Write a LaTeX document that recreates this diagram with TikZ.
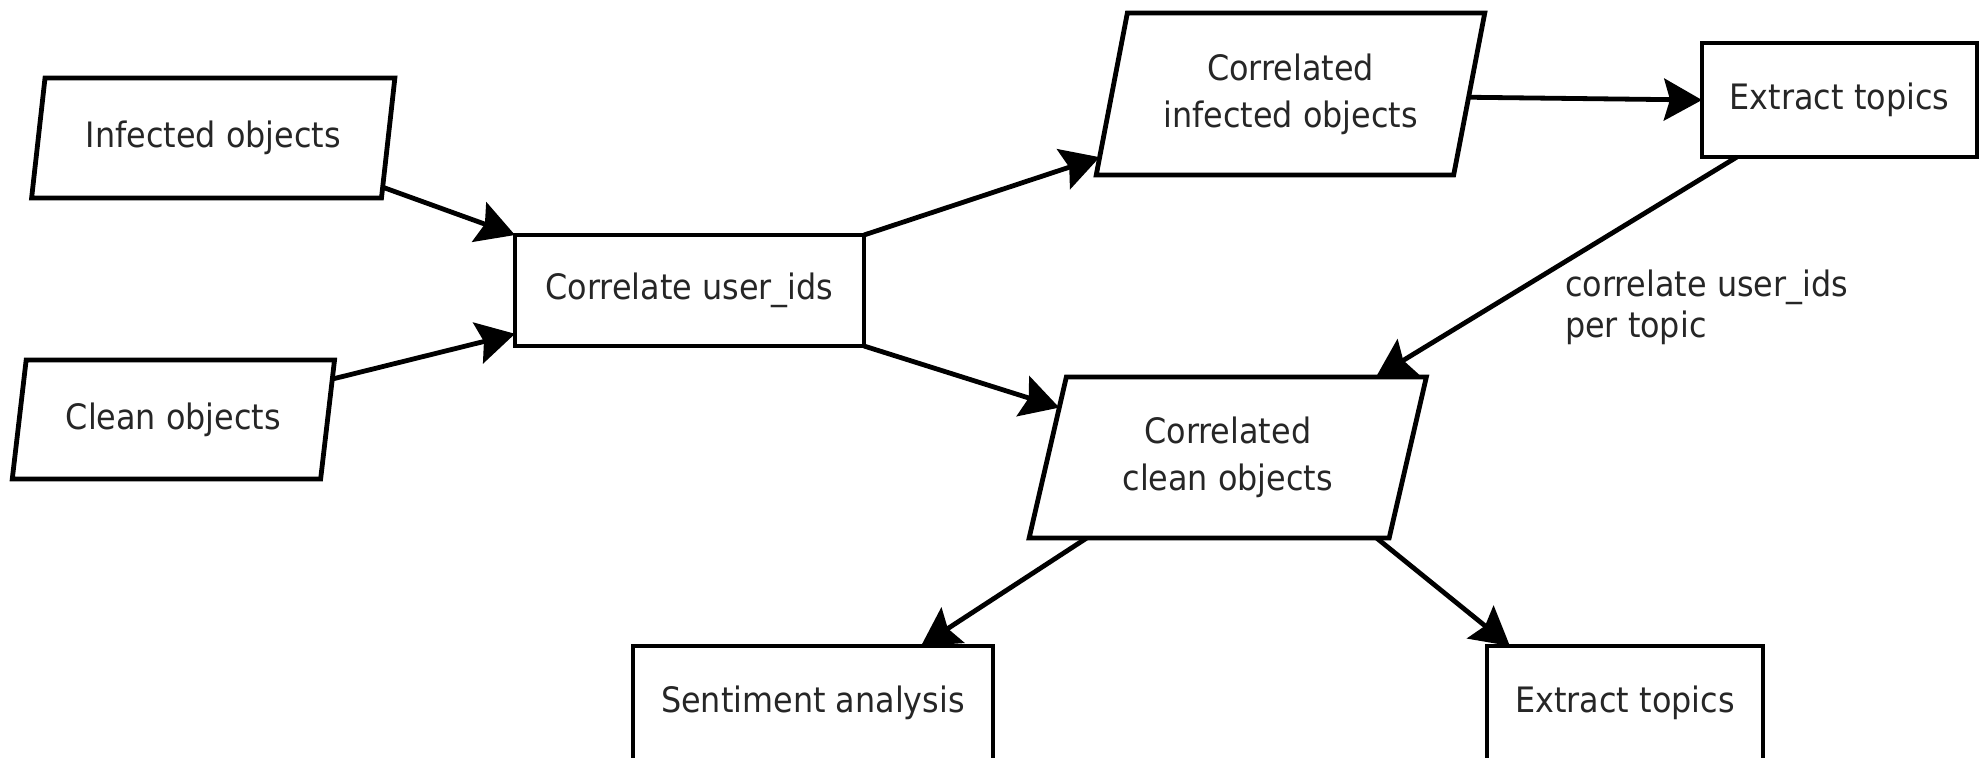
\documentclass[tikz,border=0pt]{standalone}
\usepackage{fontspec}
\setmainfont{DejaVu Sans}[FakeStretch=0.91]
\usetikzlibrary{shapes.geometric,arrows.meta,calc}
\begin{document}
\begin{tikzpicture}[x=0.5pt,y=-0.5pt,
  every node/.style={font=\fontsize{17.5pt}{23.5pt}\selectfont, inner sep=0pt, outer sep=0pt, text=black!85},
  box/.style={draw=black, line width=2.4pt, rectangle, align=center},
  para/.style={draw=black, line width=2.4pt, trapezium, trapezium left angle=73.3, trapezium right angle=106.7, trapezium stretches=true, align=center},
  conn/.style={line width=2.4pt, -{Stealth[length=19pt,width=21pt,inset=3pt]}}]
\useasboundingbox (0,0) rectangle (1981,757);
% nodes
\node[para, minimum width=182pt, minimum height=60pt] (inf) at (213.25,138) {Infected objects};
\node[para, minimum width=161.25pt, minimum height=59.5pt] (cln) at (173.4,419.5) {Clean objects};
\node[box, minimum width=174.5pt, minimum height=55.5pt] (cor) at (689.5,290.5) {Correlate user\_ids};
\node[para, minimum width=194.5pt, minimum height=81pt] (ci) at (1290.5,94) {Correlated\\infected objects};
\node[box, minimum width=137.5pt, minimum height=57pt] (et1) at (1839.5,100) {Extract topics};
\node[para, minimum width=199pt, minimum height=80.5pt] (cc) at (1227.75,457.5) {Correlated\\clean objects};
\node[box, minimum width=180pt, minimum height=57pt] (sa) at (813,703) {Sentiment analysis};
\node[box, minimum width=138pt, minimum height=57pt] (et2) at (1625,703) {Extract topics};
\node[anchor=west, align=left, font=\fontsize{17.5pt}{20.5pt}\selectfont] (lbl) at (1565,307.5) {correlate user\_ids\\per topic};
% connectors
\draw[conn] ($(inf.bottom right corner)!0.09!(inf.top right corner)$) -- (cor.north west);
\draw[conn] ($(cln.top right corner)!0.16!(cln.bottom right corner)$) -- ($(cor.south west)!0.11!(cor.north west)$);
\draw[conn] (cor.north east) -- ($(ci.bottom left corner)!0.11!(ci.top left corner)$);
\draw[conn] (cor.south east) -- ($(cc.top left corner)!0.19!(cc.bottom left corner)$);
\draw[conn] ($(ci.top right corner)!0.52!(ci.bottom right corner)$) -- (et1.west);
\draw[conn] ($(et1.south west)!0.127!(et1.south east)$) -- ($(cc.top left corner)!0.86!(cc.top right corner)$);
\draw[conn] ($(cc.bottom left corner)!0.16!(cc.bottom right corner)$) -- ($(sa.north west)!0.8!(sa.north east)$);
\draw[conn] ($(cc.bottom left corner)!0.965!(cc.bottom right corner)$) -- ($(et2.north west)!0.083!(et2.north east)$);
\end{tikzpicture}
\end{document}
